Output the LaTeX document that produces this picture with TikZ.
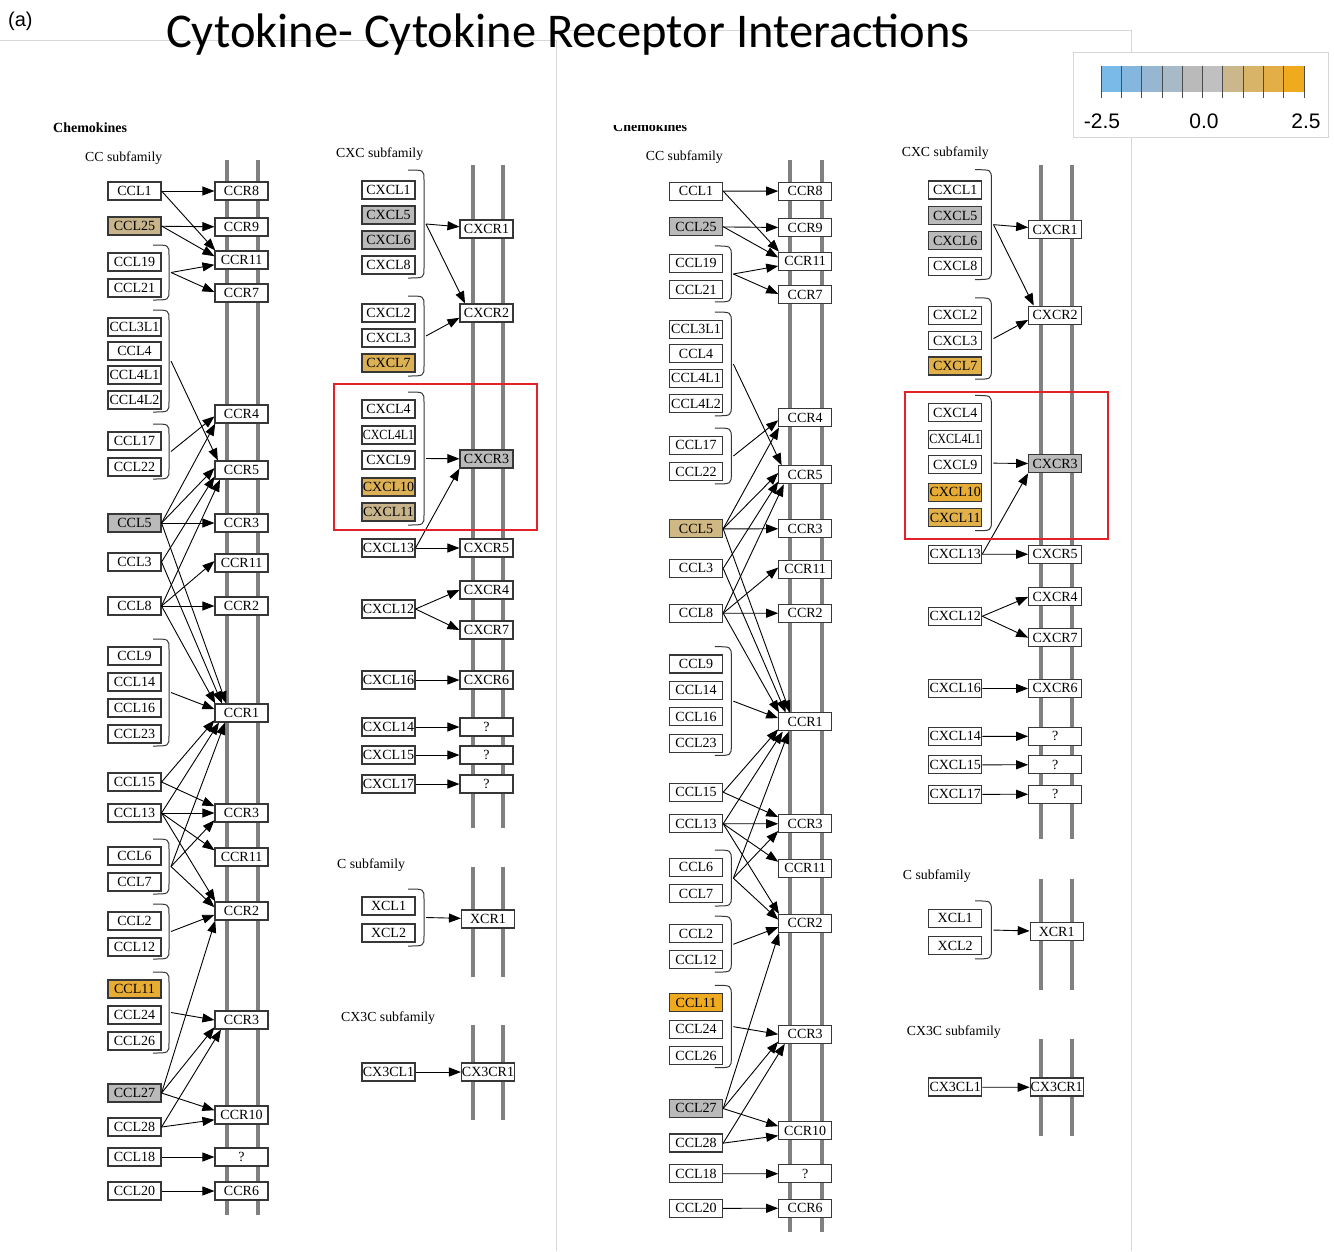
\documentclass[tikz,border=0pt]{standalone}
\usepackage{fontspec}
\setmainfont{Liberation Serif}
\newfontfamily\titlefont{Carlito}
\newfontfamily\legendfont{Liberation Sans}
\usetikzlibrary{arrows.meta,positioning}

\definecolor{membrane}{RGB}{128,128,128}
\definecolor{boxline}{RGB}{55,55,55}
\definecolor{framegrey}{RGB}{215,215,215}
\definecolor{hilite}{RGB}{226,34,40}
\definecolor{nochange}{RGB}{186,186,186}
\definecolor{tanup}{RGB}{200,180,138}
\definecolor{tanupR}{RGB}{208,184,132}
\definecolor{goldup}{RGB}{220,176,84}
\definecolor{goldupR}{RGB}{226,176,72}
\definecolor{ambup}{RGB}{230,172,52}
\definecolor{orangeup}{RGB}{240,170,32}
\definecolor{lc1}{RGB}{122,186,232}
\definecolor{lc2}{RGB}{132,182,222}
\definecolor{lc3}{RGB}{150,182,210}
\definecolor{lc4}{RGB}{168,186,200}
\definecolor{lc5}{RGB}{186,186,186}
\definecolor{lc6}{RGB}{192,192,192}
\definecolor{lc7}{RGB}{204,182,140}
\definecolor{lc8}{RGB}{216,180,104}
\definecolor{lc9}{RGB}{228,174,70}
\definecolor{lc10}{RGB}{240,170,30}

\tikzstyle{lig}=[draw=boxline,line width=1.1pt,fill=white,minimum width=53pt,minimum height=18pt,inner sep=0pt,font=\fontsize{14}{14}\selectfont]
\tikzstyle{rec}=[lig]
\tikzstyle{mem}=[draw=membrane,line width=4pt]
\tikzstyle{bind}=[draw=black,line width=0.9pt,-{Triangle[length=12pt,width=9pt]}]
\tikzstyle{brace}=[draw=boxline,line width=1pt]
\tikzstyle{sub}=[anchor=west,inner sep=0pt,font=\fontsize{13.8}{13.8}\selectfont]
\tikzstyle{chemo}=[anchor=west,inner sep=0pt,font=\bfseries\fontsize{14}{14}\selectfont]
\tikzstyle{frame}=[draw=framegrey,line width=0.8pt]

\newcommand\squeeze[1]{\scalebox{0.86}[1]{#1}}
% name, x left, x bulge, y top, y bottom
\newcommand\ligbrace[5]{%
	\draw[brace] (#2,#4) .. controls (#3,#4) .. (#3,#4+10) -- (#3,#5-10) .. controls (#3,#5) .. (#2,#5);
	\coordinate (#1) at (#3+2,{(#4+#5)/2});}

% colours: CCL25, CCL5, CCL11, CXCL7, CXCL10, CXCL11
\newcommand\chemopanel[6]{%
	% membranes
	\draw[mem] (227,160) -- (227,1215);
	\draw[mem] (258,160) -- (258,1215);
	\draw[mem] (473,165) -- (473,828);
	\draw[mem] (503,165) -- (503,828);
	\draw[mem] (473,867) -- (473,977);
	\draw[mem] (503,867) -- (503,977);
	\draw[mem] (473,1025) -- (473,1120);
	\draw[mem] (503,1025) -- (503,1120);
	% labels
	\node[sub] (ccsub) at (85,158) {CC subfamily};
	\node[sub] (cxcsub) at (336,154) {CXC subfamily};
	\node[sub] (csub) at (337,865) {C subfamily};
	\node[sub] (cx3csub) at (341,1018) {CX3C subfamily};
	% CC ligands
	\node[lig] (ccl1) at (134.5,191) {CCL1};
	\node[lig,fill=#1] (ccl25) at (134.5,226) {CCL25};
	\node[lig] (ccl19) at (134.5,262) {CCL19};
	\node[lig] (ccl21) at (134.5,288) {CCL21};
	\node[lig] (ccl3l1) at (134.5,327) {CCL3L1};
	\node[lig] (ccl4) at (134.5,351) {CCL4};
	\node[lig] (ccl4l1) at (134.5,375) {CCL4L1};
	\node[lig] (ccl4l2) at (134.5,400) {CCL4L2};
	\node[lig] (ccl17) at (134.5,441) {CCL17};
	\node[lig] (ccl22) at (134.5,467) {CCL22};
	\node[lig,fill=#2] (ccl5) at (134.5,523) {CCL5};
	\node[lig] (ccl3) at (134.5,562) {CCL3};
	\node[lig] (ccl8) at (134.5,606) {CCL8};
	\node[lig] (ccl9) at (134.5,656) {CCL9};
	\node[lig] (ccl14) at (134.5,682) {CCL14};
	\node[lig] (ccl16) at (134.5,708) {CCL16};
	\node[lig] (ccl23) at (134.5,734) {CCL23};
	\node[lig] (ccl15) at (134.5,782) {CCL15};
	\node[lig] (ccl13) at (134.5,813) {CCL13};
	\node[lig] (ccl6) at (134.5,856) {CCL6};
	\node[lig] (ccl7) at (134.5,882) {CCL7};
	\node[lig] (ccl2) at (134.5,921) {CCL2};
	\node[lig] (ccl12) at (134.5,947) {CCL12};
	\node[lig,fill=#3] (ccl11) at (134.5,989) {CCL11};
	\node[lig] (ccl24) at (134.5,1015) {CCL24};
	\node[lig] (ccl26) at (134.5,1041) {CCL26};
	\node[lig,fill=nochange] (ccl27) at (134.5,1093) {CCL27};
	\node[lig] (ccl28) at (134.5,1127) {CCL28};
	\node[lig] (ccl18) at (134.5,1157) {CCL18};
	\node[lig] (ccl20) at (134.5,1191) {CCL20};
	% CC receptors
	\node[rec] (ccr8) at (241.5,191) {CCR8};
	\node[rec] (ccr9) at (241.5,227) {CCR9};
	\node[rec] (ccr11a) at (241.5,260) {CCR11};
	\node[rec] (ccr7) at (241.5,293) {CCR7};
	\node[rec] (ccr4) at (241.5,414) {CCR4};
	\node[rec] (ccr5) at (241.5,470) {CCR5};
	\node[rec] (ccr3a) at (241.5,523) {CCR3};
	\node[rec] (ccr11b) at (241.5,563) {CCR11};
	\node[rec] (ccr2a) at (241.5,606) {CCR2};
	\node[rec] (ccr1) at (241.5,713) {CCR1};
	\node[rec] (ccr3b) at (241.5,813) {CCR3};
	\node[rec] (ccr11c) at (241.5,857) {CCR11};
	\node[rec] (ccr2b) at (241.5,911) {CCR2};
	\node[rec] (ccr3c) at (241.5,1020) {CCR3};
	\node[rec] (ccr10) at (241.5,1115) {CCR10};
	\node[rec] (ccrq) at (241.5,1157) {?};
	\node[rec] (ccr6) at (241.5,1191) {CCR6};
	% CC groups
	\ligbrace{br1}{153}{169}{245}{300}
	\ligbrace{br2}{153}{169}{310}{412}
	\ligbrace{br3}{153}{169}{424}{479}
	\ligbrace{br4}{153}{169}{639}{746}
	\ligbrace{br5}{153}{169}{839}{894}
	\ligbrace{br6}{153}{169}{904}{959}
	\ligbrace{br7}{153}{169}{972}{1053}
	% CC bindings
	\draw[bind] (ccl1) -- (ccr8);
	\draw[bind] (ccl1.east) -- (ccr11a.160);
	\draw[bind] (ccl25) -- (ccr9);
	\draw[bind] (ccl25.east) -- (ccr11a.172);
	\draw[bind] (br1) -- (ccr11a.190);
	\draw[bind] (br1) -- (ccr7.178);
	\draw[bind] (br2) -- (ccr5.158);
	\draw[bind] (br3) -- (ccr4.185);
	\draw[bind] (ccl5.east) -- (ccr4.200);
	\draw[bind] (ccl5.east) -- (ccr5.176);
	\draw[bind] (ccl3.east) -- (ccr5.194);
	\draw[bind] (ccl8.east) -- (ccr5.204);
	\draw[bind] (ccl5) -- (ccr3a);
	\draw[bind] (ccl5.east) -- (ccr1.148);
	\draw[bind] (ccl3.east) -- (ccr1.154);
	\draw[bind] (ccl8.east) -- (ccr1.160);
	\draw[bind] (ccl8.east) -- (ccr11b.176);
	\draw[bind] (ccl8) -- (ccr2a);
	\draw[bind] (br4) -- (ccr1.172);
	\draw[bind] (ccl15.east) -- (ccr1.195);
	\draw[bind] (ccl13.east) -- (ccr1.203);
	\draw[bind] (br5) -- (ccr1.210);
	\draw[bind] (ccl15.east) -- (ccr3b.166);
	\draw[bind] (ccl13) -- (ccr3b);
	\draw[bind] (br5) -- (ccr3b.195);
	\draw[bind] (ccl13.east) -- (ccr11c.166);
	\draw[bind] (ccl13.east) -- (ccr2b.160);
	\draw[bind] (br5) -- (ccr2b.172);
	\draw[bind] (br6) -- (ccr2b.188);
	\draw[bind] (ccl27.east) -- (ccr2b.200);
	\draw[bind] (br7) -- (ccr3c.180);
	\draw[bind] (ccl27.east) -- (ccr3c.195);
	\draw[bind] (ccl28.east) -- (ccr3c.205);
	\draw[bind] (ccl27.east) -- (ccr10.170);
	\draw[bind] (ccl28.east) -- (ccr10.190);
	\draw[bind] (ccl18) -- (ccrq);
	\draw[bind] (ccl20) -- (ccr6);
	% CXC ligands
	\node[lig] (cxcl1) at (388.5,190) {CXCL1};
	\node[lig,fill=nochange] (cxcl5) at (388.5,215) {CXCL5};
	\node[lig,fill=nochange] (cxcl6) at (388.5,240) {CXCL6};
	\node[lig] (cxcl8) at (388.5,265) {CXCL8};
	\node[lig] (cxcl2) at (388.5,313) {CXCL2};
	\node[lig] (cxcl3) at (388.5,338) {CXCL3};
	\node[lig,fill=#4] (cxcl7) at (388.5,363) {CXCL7};
	\node[lig] (cxcl4) at (388.5,409) {CXCL4};
	\node[lig] (cxcl4l1) at (388.5,435) {\squeeze{CXCL4L1}};
	\node[lig] (cxcl9) at (388.5,460) {CXCL9};
	\node[lig,fill=#5] (cxcl10) at (388.5,487) {CXCL10};
	\node[lig,fill=#6] (cxcl11) at (388.5,512) {CXCL11};
	\node[lig] (cxcl13) at (388.5,548) {CXCL13};
	\node[lig] (cxcl12) at (388.5,609) {CXCL12};
	\node[lig] (cxcl16) at (388.5,680) {CXCL16};
	\node[lig] (cxcl14) at (388.5,727) {CXCL14};
	\node[lig] (cxcl15) at (388.5,755) {CXCL15};
	\node[lig] (cxcl17) at (388.5,784) {CXCL17};
	% CXC receptors
	\node[rec] (cxcr1) at (486.5,229) {CXCR1};
	\node[rec] (cxcr2) at (486.5,313) {CXCR2};
	\node[rec,fill=nochange] (cxcr3) at (486.5,459) {CXCR3};
	\node[rec] (cxcr5) at (486.5,548) {CXCR5};
	\node[rec] (cxcr4) at (486.5,590) {CXCR4};
	\node[rec] (cxcr7) at (486.5,630) {CXCR7};
	\node[rec] (cxcr6) at (486.5,680) {CXCR6};
	\node[rec] (cxcrqa) at (486.5,727) {?};
	\node[rec] (cxcrqb) at (486.5,755) {?};
	\node[rec] (cxcrqc) at (486.5,784) {?};
	% CXC groups and bindings
	\ligbrace{brA}{408}{424}{170}{278}
	\ligbrace{brB}{408}{424}{296}{376}
	\ligbrace{brC}{408}{424}{392}{525}
	\draw[bind] (brA) -- (cxcr1);
	\draw[bind] (brA) -- (cxcr2.156);
	\draw[bind] (brB) -- (cxcr2.190);
	\draw[bind] (brC) -- (cxcr3);
	\draw[bind] (cxcl13.east) -- (cxcr3.south west);
	\draw[bind] (cxcl13) -- (cxcr5);
	\draw[bind] (cxcl12.east) -- (cxcr4.west);
	\draw[bind] (cxcl12.east) -- (cxcr7.west);
	\draw[bind] (cxcl16) -- (cxcr6);
	\draw[bind] (cxcl14) -- (cxcrqa);
	\draw[bind] (cxcl15) -- (cxcrqb);
	\draw[bind] (cxcl17) -- (cxcrqc);
	% C and CX3C
	\node[lig] (xcl1) at (388.5,906) {XCL1};
	\node[lig] (xcl2) at (388.5,933) {XCL2};
	\node[rec] (xcr1) at (488,919) {XCR1};
	\ligbrace{brX}{408}{424}{889}{946}
	\draw[bind] (brX) -- (xcr1);
	\node[lig] (cx3cl1) at (388.5,1072) {CX3CL1};
	\node[rec] (cx3cr1) at (488,1072) {CX3CR1};
	\draw[bind] (cx3cl1) -- (cx3cr1);
}

\begin{document}
\begin{tikzpicture}[x=1pt,y=-1pt]
	\useasboundingbox[fill=white] (0,0) rectangle (1334,1251);
	% frames
	\draw[frame] (0,40) -- (556,40);
	\draw[frame] (556,30) -- (1131,30);
	\draw[frame] (556,40) -- (556,1251);
	\draw[frame] (1131,30) -- (1131,1251);
	% heading
	\node[anchor=base west,inner sep=0pt,font=\legendfont\fontsize{20}{20}\selectfont] (tag) at (8,26) {(a)};
	\node[anchor=base,inner sep=0pt,font=\titlefont\fontsize{48.5}{48.5}\selectfont] (title) at (568,47) {Cytokine- Cytokine Receptor Interactions};
	% left panel
	\node[chemo] (chemoL) at (53,128) {Chemokines};
	\chemopanel{tanup}{nochange}{ambup}{goldup}{goldup}{tanup}
	\draw[hilite,line width=2pt] (334,384) rectangle (537,530);
	% right panel
	\begin{scope}
		\clip (600,125.5) rectangle (720,140);
		\node[chemo] (chemoR) at (613,127) {Chemokines};
	\end{scope}
	\begin{scope}[name prefix=R-,shift={(558.9,-3.2)},xscale=1.02,yscale=1.017]
		\chemopanel{nochange}{tanupR}{orangeup}{goldupR}{ambup}{goldupR}
	\end{scope}
	\draw[hilite,line width=2pt] (905,392) rectangle (1108,539);
	% legend
	\draw[frame,fill=white] (1073,52) rectangle (1328,137);
	\foreach \c [count=\i from 0] in {lc1,lc2,lc3,lc4,lc5,lc6,lc7,lc8,lc9,lc10}
		\fill[\c] (1101+20.3*\i,66) rectangle ++(20.3,26);
	\foreach \i in {0,...,10}
		\draw[black!70,line width=0.8pt] (1101+20.3*\i,66) -- ++(0,32);
	\node[anchor=base,inner sep=0pt,font=\legendfont\fontsize{21}{21}\selectfont] (lmin) at (1102,128) {-2.5};
	\node[anchor=base,inner sep=0pt,font=\legendfont\fontsize{21}{21}\selectfont] (lmid) at (1204,128) {0.0};
	\node[anchor=base,inner sep=0pt,font=\legendfont\fontsize{21}{21}\selectfont] (lmax) at (1306,128) {2.5};
\end{tikzpicture}
\end{document}
